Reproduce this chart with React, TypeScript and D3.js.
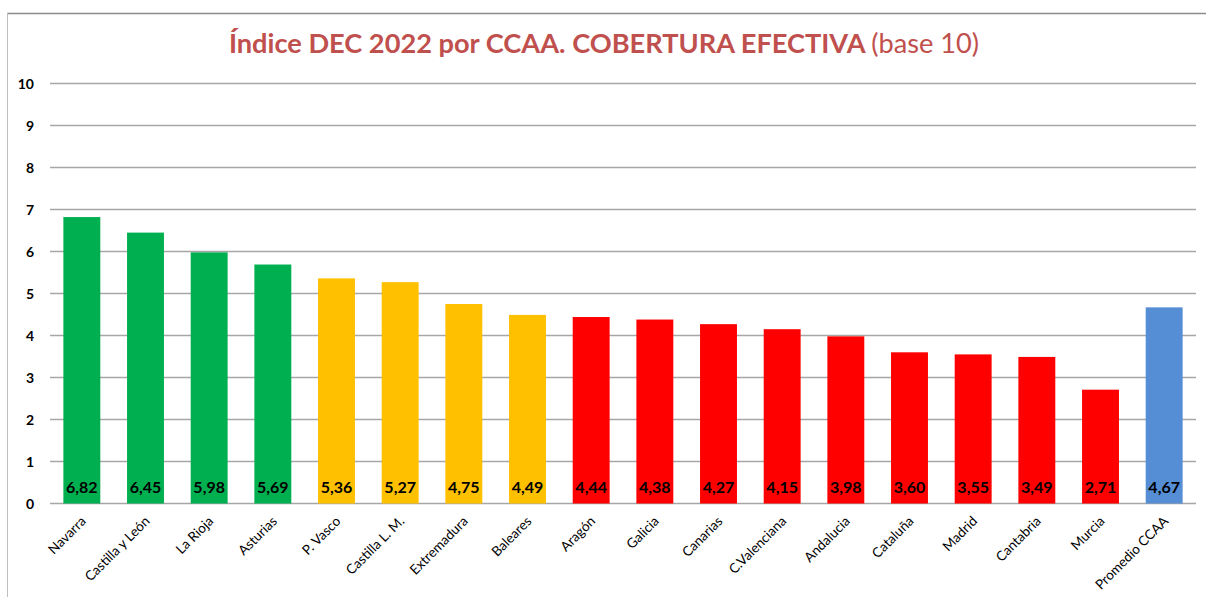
import React from "react";
import * as d3 from "d3";

const categories = ["Navarra","Castilla y León","La Rioja","Asturias","P. Vasco","Castilla L. M.","Extremadura","Baleares","Aragón","Galicia","Canarias","C.Valenciana","Andalucia","Cataluña","Madrid","Cantabria","Murcia","Promedio CCAA"];
const values = [6.82,6.45,5.98,5.69,5.36,5.27,4.75,4.49,4.44,4.38,4.27,4.15,3.98,3.60,3.55,3.49,2.71,4.67];
const groups = ["g","g","g","g","y","y","y","y","r","r","r","r","r","r","r","r","r","b"];
const yTicks = [0,1,2,3,4,5,6,7,8,9,10];
const colors: Record<string,string> = { g: "#00B050", y: "#FFC000", r: "#FF0000", b: "#558ED5" };

const W = 1206, H = 597;
const left = 50, right = 1196, top = 83.5, bottom = 503.5;
const font = "Lato, 'Open Sans', sans-serif";

export default function App() {
  const x = d3.scaleBand<string>().domain(categories).range([left, right]).paddingInner(0.42).paddingOuter(0.21);
  const y = d3.scaleLinear().domain([0, 10]).range([bottom, top]);
  const fmt = (v: number) => v.toFixed(2).replace(".", ",");
  return (
    <svg width={W} height={H} style={{ position: "absolute", left: 0, top: 0, background: "#fff" }} fontFamily={font}>
      <line x1={7} x2={W} y1={13.5} y2={13.5} stroke="#8c8c8c" strokeWidth={1.5} />
      <line x1={7.5} x2={7.5} y1={13} y2={H} stroke="#bfbfbf" strokeWidth={1} />
      <text x={604} y={53} textAnchor="middle" fontSize={27.2} fill="#C0504D">
        <tspan fontWeight="bold">Índice DEC 2022 por CCAA. COBERTURA EFECTIVA </tspan>
        <tspan>(base 10)</tspan>
      </text>
      {yTicks.map(t => (
        <g key={t}>
          <line x1={left} x2={right} y1={y(t)} y2={y(t)} stroke="#a6a6a6" strokeWidth={1.5} />
          <text x={34} y={y(t) + 5} textAnchor="end" fontSize={14} fontWeight="bold" fill="#000">{t}</text>
        </g>
      ))}
      {categories.map((c, i) => {
        const bx = x(c)!;
        const cx = bx + x.bandwidth() / 2;
        return (
          <g key={c}>
            <rect x={bx} y={y(values[i])} width={x.bandwidth()} height={y(0) - y(values[i])} fill={colors[groups[i]]} />
            <text x={cx} y={493} textAnchor="middle" fontSize={16} fontWeight="bold" fill="#000">{fmt(values[i])}</text>
            <text transform={`translate(${cx + 5},${522}) rotate(-45)`} textAnchor="end" fontSize={13.5} fill="#000">{c}</text>
          </g>
        );
      })}
    </svg>
  );
}
